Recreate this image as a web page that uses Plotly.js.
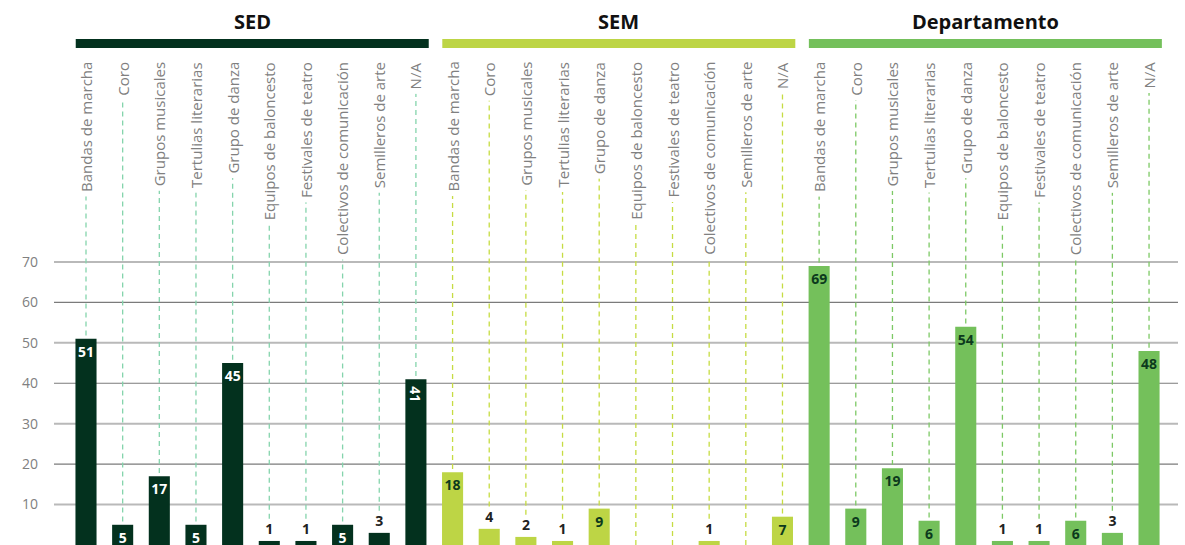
<!DOCTYPE html>
<html>
<head>
<meta charset="utf-8">
<script src="https://cdn.plot.ly/plotly-3.0.1.min.js"></script>
<style>
  html, body { margin: 0; padding: 0; background: #fff; }
  #myDiv { width: 1185px; height: 545px; }
</style>
</head>
<body>
<div id="myDiv"></div>
<script>
  // data
  var categories = ['Bandas de marcha', 'Coro', 'Grupos musicales', 'Tertulias literarias', 'Grupo de danza',
                    'Equipos de baloncesto', 'Festivales de teatro', 'Colectivos de comunicación',
                    'Semilleros de arte', 'N/A'];
  var groups = ['SED', 'SEM', 'Departamento'];
  var sed = [51, 5, 17, 5, 45, 1, 1, 5, 3, 41];
  var sem = [18, 4, 2, 1, 9, 0, 0, 1, 0, 7];
  var dept = [69, 9, 19, 6, 54, 1, 1, 6, 3, 48];
  var yTicks = [10, 20, 30, 40, 50, 60, 70];

  var series = [sed, sem, dept],
      barColors = ['#03311e', '#bdd545', '#74c05b'],
      dashColors = ['#85d4ac', '#c6dc42', '#7dc965'],
      insideColors = ['#ffffff', '#0c3a1d', '#0c3a1d'],
      outsideColor = '#222222',
      labelFont = 'Open Sans, sans-serif',
      yTop = 120.45;

  var data = [],
      shapes = [],
      annotations = [];

  // gridlines, light and dark one after the other
  for (var t = 0; t < yTicks.length; t++) {
    var light = (t % 2 == 0);
    shapes.push({
      type: 'line', layer: 'below', xref: 'paper', yref: 'y',
      x0: 0, x1: 1, y0: yTicks[t], y1: yTicks[t],
      line: {color: light ? '#b9b9b9' : '#7b7b7b', width: light ? 2 : 1.2}
    });
  }

  for (var g = 0; g < groups.length; g++) {
    var vals = series[g],
        xs = [],
        texts = [],
        pos = [],
        tcol = [];
    for (var k = 0; k < categories.length; k++) {
      var x = g * categories.length + k,
          v = vals[k];
      xs.push(x);
      texts.push(v ? String(v) : '');
      pos.push(v >= 5 ? 'inside' : 'outside');
      tcol.push(v >= 5 ? insideColors[g] : outsideColor);

      // dashed guide from the label down to the bar
      var stop = v == 0 ? 0 : (v >= 5 ? v + 0.8 : v + 5.5);
      shapes.push({
        type: 'line', layer: 'below', xref: 'x', yref: 'y',
        x0: x, x1: x, y0: stop, y1: yTop,
        line: {color: dashColors[g], width: 1.3, dash: '5px,4px'}
      });

      // rotated category label, white box hides the guide behind it
      annotations.push({
        xref: 'x', yref: 'paper', x: x, y: 1.0021,
        xanchor: 'center', yanchor: 'top',
        text: categories[k], textangle: -90, showarrow: false,
        bgcolor: '#ffffff', borderpad: 4,
        font: {family: labelFont, size: 15, color: '#808080'}
      });
    }

    // SED N/A value is written sideways in the original
    if (g == 0) {
      texts[9] = '';
      annotations.push({
        xref: 'x', yref: 'y', x: xs[9], y: vals[9], yshift: -5,
        xanchor: 'center', yanchor: 'top',
        text: String(vals[9]), textangle: 90, showarrow: false,
        font: {family: labelFont, size: 14, color: insideColors[0], weight: 700}
      });
    }

    data.push({
      type: 'bar',
      x: xs,
      y: vals,
      name: groups[g],
      width: 0.575,
      marker: {color: barColors[g]},
      text: texts,
      textposition: pos,
      insidetextanchor: 'end',
      textangle: 0,
      constraintext: 'none',
      cliponaxis: false,
      textfont: {family: labelFont, size: 14, color: tcol, weight: 700},
      hoverinfo: 'x+y'
    });

    // group header bar and title
    shapes.push({
      type: 'rect', xref: 'x', yref: 'paper',
      x0: xs[0] - 0.28, x1: xs[xs.length - 1] + 0.35,
      y0: 1.0205, y1: 1.0390,
      fillcolor: barColors[g], line: {width: 0}
    });
    annotations.push({
      xref: 'x', yref: 'paper',
      x: (xs[0] - 0.28 + xs[xs.length - 1] + 0.35) / 2, y: 1.0749,
      xanchor: 'center', yanchor: 'middle',
      text: '<b>' + groups[g] + '</b>', showarrow: false,
      font: {family: labelFont, size: 20, color: '#111111'}
    });
  }

  var layout = {
    width: 1185,
    height: 545,
    margin: {l: 54, r: 7, t: 58, b: 0},
    paper_bgcolor: '#ffffff',
    plot_bgcolor: '#ffffff',
    showlegend: false,
    barmode: 'overlay',
    xaxis: {
      range: [-0.873, 29.79],
      showticklabels: false,
      showgrid: false,
      zeroline: false,
      showline: false,
      fixedrange: true
    },
    yaxis: {
      range: [0, yTop],
      tickvals: yTicks,
      showgrid: false,
      zeroline: false,
      showline: false,
      ticks: '',
      ticklabelstandoff: 15,
      tickfont: {family: labelFont, size: 14, color: '#808080'},
      fixedrange: true
    },
    shapes: shapes,
    annotations: annotations
  };

  Plotly.newPlot('myDiv', data, layout, {displayModeBar: false, staticPlot: true});
</script>
</body>
</html>
